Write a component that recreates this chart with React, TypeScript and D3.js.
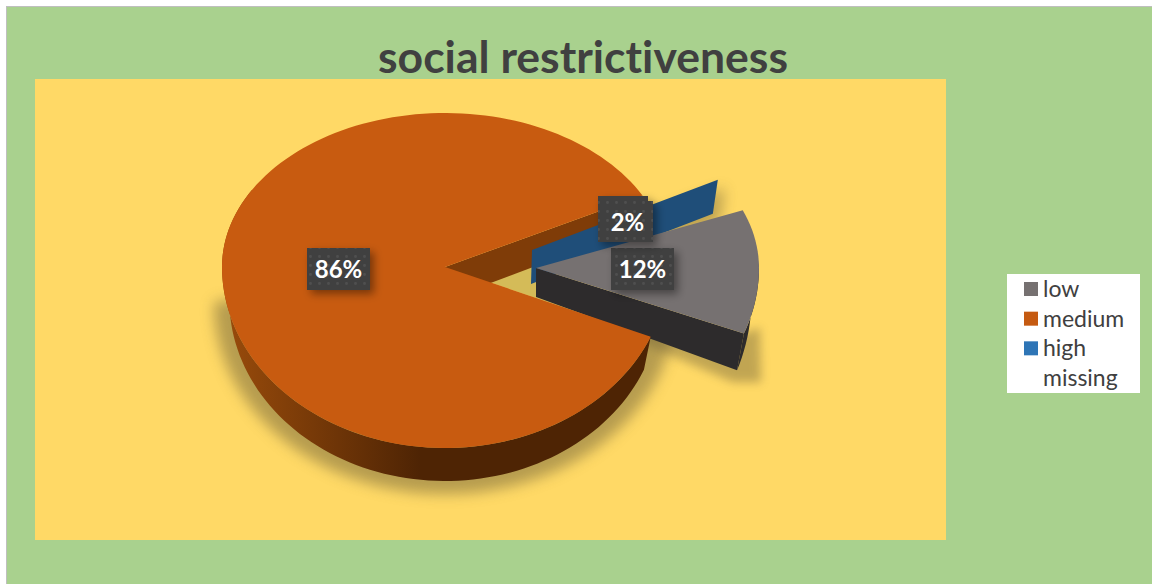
import React from "react";
import * as d3 from "d3";

// Survey shares for the pie
const categories = ["low", "medium", "high", "missing"];
const shares = [12, 86, 2, 0];
const shareLabels = ["12%", "86%", "2%"];
const legendColors = ["#767171", "#c55a11", "#2e75b6", "none"];

const FONT = "Lato, 'Open Sans', sans-serif";
const RAD = Math.PI / 180;
const DEPTH = 33;
const FIRST_SLICE_DEG = 69.5;

type Pt = [number, number];

// Radial scales for the tilted disc: the near half is drawn a little deeper than the far half
const rx = d3.scaleLinear().domain([0, 1]).range([0, 223]);
const ryFar = d3.scaleLinear().domain([0, 1]).range([0, 154]);
const ryNear = d3.scaleLinear().domain([0, 1]).range([0, 181]);

function project(origin: Pt, deg: number, r = 1, xScale = 1, yScale = 1): Pt {
  const a = deg * RAD;
  const c = Math.cos(a);
  const ry = c > 0 ? ryFar : ryNear;
  return [origin[0] + rx(r) * Math.sin(a) * xScale, origin[1] - ry(r) * c * yScale];
}

function rim(origin: Pt, from: number, to: number, xScale = 1, yScale = 1): Pt[] {
  const n = Math.max(2, Math.ceil(Math.abs(to - from) / 2));
  return d3.range(n + 1).map((i) => project(origin, from + ((to - from) * i) / n, 1, xScale, yScale));
}

const line = d3.line<Pt>().curve(d3.curveLinear);
const closed = (pts: Pt[]) => line(pts)! + "Z";

const slices = d3
  .pie<number>()
  .sort(null)
  .startAngle(FIRST_SLICE_DEG * RAD)
  .endAngle((FIRST_SLICE_DEG + 360) * RAD)(shares.slice(0, 3));
const deg = (i: number): [number, number] => [slices[i].startAngle / RAD, slices[i].endAngle / RAD];

const mainTop: Pt = [445, 267];
const mainBase: Pt = [445, 267 + DEPTH];
const lowTop: Pt = [536, 268];
const lowBase: Pt = [536, 268 + 29];
const highTop: Pt = [532, 250];
const SIDE_SCALE = 0.967;
const LOW_BASE_DROP = 1.12;
const LOW_TURN = -1.5;

export default function App() {
  const [lowA, lowB] = deg(0).map((d) => d + LOW_TURN);
  const [medA, medB] = deg(1);
  const [highA] = deg(2);

  const mediumFace = closed([mainTop, ...rim(mainTop, medA, medB)]);
  const mediumOuter = closed([
    ...rim(mainTop, medA, 300),
    ...rim(mainBase, 300, medA, SIDE_SCALE),
  ]);
  const endRimTop = project(mainTop, medB);
  const endRimBase = project(mainBase, medB, 1, SIDE_SCALE);
  const mediumCut = closed([mainTop, endRimTop, endRimBase, mainBase]);

  const lowFace = closed([lowTop, ...rim(lowTop, lowA, lowB)]);
  const lowCorner = project(lowTop, lowB);
  const lowBaseCorner = project(lowBase, lowB, 1, SIDE_SCALE, LOW_BASE_DROP);
  const lowSide = closed([lowTop, lowCorner, lowBaseCorner, lowBase]);
  const lowOuter = closed([
    ...rim(lowTop, lowA + 20, lowB),
    ...rim(lowBase, lowB, lowA + 20, SIDE_SCALE, LOW_BASE_DROP),
  ]);

  const highTip = project(highTop, highA - 1, 0.95);
  const highWall = closed([
    highTop,
    highTip,
    [highTip[0] - 5, highTip[1] + DEPTH + 1],
    [highTop[0] - 1, highTop[1] + DEPTH + 1],
  ]);

  const mainShadow = closed([
    [221, 300],
    ...d3.range(270, 90, -3).map((d) => {
      const a = d * RAD;
      return [445 + 231 * Math.sin(a), 303 + 191 * -Math.cos(a)] as Pt;
    }),
  ]);
  const lowShadow = closed([
    lowBase,
    lowCorner,
    [lowCorner[0] + 16, lowCorner[1] - 6],
    [lowBaseCorner[0] + 24, lowBaseCorner[1] + 12],
    [lowBaseCorner[0] - 4, lowBaseCorner[1] + 12],
  ]);
  // Shade lying in the gap between the large slice and the pulled-out ones
  const gapShade = closed([mainTop, [560, 250], lowBase, project(mainTop, medA)]);

  const labelBoxes = [
    { i: 1, x: 307, y: 248, w: 63, h: 42, step: 0, dy: 9 },
    { i: 0, x: 611, y: 248, w: 63, h: 42, step: 0, dy: 9 },
    { i: 2, x: 598, y: 196, w: 55, h: 46, step: 5, dy: 12 },
  ];
  const boxPath = (b: (typeof labelBoxes)[number]) =>
    closed([
      [b.x, b.y],
      [b.x + b.w - b.step, b.y],
      [b.x + b.w - b.step, b.y + b.step],
      [b.x + b.w, b.y + b.step],
      [b.x + b.w, b.y + b.h],
      [b.x, b.y + b.h],
    ]);

  return (
    <svg
      width={1152}
      height={584}
      style={{ position: "absolute", left: 0, top: 0, display: "block" }}
      fontFamily={FONT}
    >
      <defs>
        <linearGradient id="rimShade" gradientUnits="userSpaceOnUse" x1={230} x2={420} y1={0} y2={0}>
          <stop offset="0" stopColor="#974a0b" />
          <stop offset="1" stopColor="#4e2404" />
        </linearGradient>
        <filter id="softShadow" x="-20%" y="-20%" width="140%" height="140%">
          <feGaussianBlur stdDeviation="7" />
        </filter>
        <filter id="tightShadow" x="-20%" y="-30%" width="140%" height="160%">
          <feGaussianBlur stdDeviation="5" />
        </filter>
        <filter id="boxShadow" x="-30%" y="-30%" width="170%" height="170%">
          <feDropShadow dx="4" dy="4" stdDeviation="4" floodColor="#000" floodOpacity="0.4" />
        </filter>
        <pattern id="dots" width="9" height="9" patternUnits="userSpaceOnUse">
          <rect width="9" height="9" fill="#404040" />
          <circle cx="4.5" cy="4.5" r="1.4" fill="#505050" />
        </pattern>
        <clipPath id="plotClip">
          <rect x={35} y={79} width={911} height={461} />
        </clipPath>
      </defs>

      <rect x={6.5} y={6.5} width={1146} height={578} fill="#a9d18e" stroke="#bfbfbf" />
      <rect x={35} y={79} width={911} height={461} fill="#ffd966" />

      <text
        x={583}
        y={73}
        textAnchor="middle"
        fontSize={44.5}
        fontWeight={700}
        fill="#404040"
        style={{ fontVariantLigatures: "none" }}
      >
        social restrictiveness
      </text>

      <g clipPath="url(#plotClip)">
        <path d={mainShadow} fill="#6e6038" opacity={0.5} filter="url(#softShadow)" />
        <path d={lowShadow} fill="#6e6038" opacity={0.42} filter="url(#tightShadow)" />
        <path d={highWall} transform="translate(7,8)" fill="#6e6038" opacity={0.45} filter="url(#softShadow)" />
      </g>

      <path d={gapShade} fill="#d4bb58" />
      <path d={mediumCut} fill="#7f3c08" />
      <path d={highWall} fill="#1f4e79" />
      <path d={lowSide} fill="#2d2b2c" />
      <path d={lowOuter} fill="#2d2b2c" />
      <path d={lowFace} fill="#767171" />
      <path d={mediumOuter} fill="url(#rimShade)" />
      <path d={mediumFace} fill="#c85b10" />

      {labelBoxes.map((b) => (
        <g key={b.i}>
          <path d={boxPath(b)} fill="url(#dots)" filter="url(#boxShadow)" />
          <text
            x={b.x + b.w / 2 + (b.step ? 2 : 0)}
            y={b.y + b.h / 2 + b.dy}
            textAnchor="middle"
            fontSize={24}
            fontWeight={700}
            fill="#fff"
          >
            {shareLabels[b.i]}
          </text>
        </g>
      ))}

      <rect x={1007} y={274} width={133} height={119} fill="#fff" />
      {categories.map((c, i) => {
        const y = d3.scaleLinear().domain([0, 3]).range([289, 378])(i);
        return (
          <g key={c}>
            {legendColors[i] !== "none" && <rect x={1024} y={y - 7} width={14} height={14} fill={legendColors[i]} />}
            <text x={1043} y={y + 8} fontSize={23} fill="#404040">
              {c}
            </text>
          </g>
        );
      })}
    </svg>
  );
}
